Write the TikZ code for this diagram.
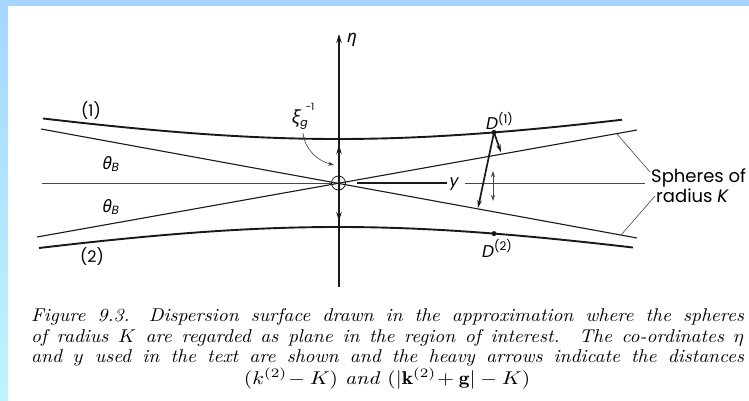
\documentclass[tikz,border=0pt]{standalone}
\usepackage{fontspec}
\usepackage{graphicx}
\newfontfamily\labfont{Poppins}
\newfontfamily\grkfont{Noto Sans}
\usetikzlibrary{arrows.meta}
\definecolor{slideblue}{RGB}{166,214,255}
\definecolor{slidecyan}{RGB}{190,244,255}
\definecolor{ink}{RGB}{25,25,25}
\begin{document}
\begin{tikzpicture}[x=1pt,y=-1pt,
  curvel/.style={draw=ink, line width=1.9pt},
  asym/.style={draw=ink, line width=1.1pt},
  axisl/.style={draw=ink, line width=1.2pt},
  thinl/.style={draw=ink!80, line width=0.8pt},
  leader/.style={draw=ink!85, line width=0.55pt},
  tip/.style={-{Stealth[length=9pt,width=5.5pt]}},
  smalltip/.style={-{Stealth[length=6pt,width=4pt]}},
  heavy/.style={draw=ink, line width=1.7pt, -{Stealth[length=8pt,width=4.5pt]}},
  lbl/.style={inner sep=0pt, font=\labfont\fontsize{16}{16}\selectfont},
  grk/.style={inner sep=0pt, font=\grkfont\itshape\fontsize{17}{17}\selectfont},
  dot/.style={circle, fill=ink, inner sep=0pt, minimum size=5pt},
  capline/.style={inner sep=0pt, anchor=base west},
]
\useasboundingbox (0,0) rectangle (749,401);
\fill[white] (0,0) rectangle (749,401);
\shade[top color=slideblue, bottom color=slidecyan] (0,0) rectangle (8,401);
\fill[slideblue] (0,0) rectangle (749,6);

% axis
\coordinate (axB) at (339,287);
\coordinate (axT) at (339,34);
\draw[axisl, tip] (axB) -- (axT);
\node[grk] (eta) at (352,40) {η};

% centre circle
\node[circle, draw=ink, line width=0.8pt, minimum size=14pt, inner sep=0pt] (O) at (338.5,183) {};

% horizontal line
\coordinate (hL) at (42,183);
\coordinate (hR) at (645,183);
\coordinate (yS) at (357,183);
\coordinate (yE) at (447,183);
\coordinate (yR) at (465,183);
\draw[thinl] (hL) -- (O.west);
\draw[draw=ink, line width=1.3pt] (yS) -- (yE);
\node[lbl, font=\labfont\itshape\fontsize{16}{16}\selectfont] (ylab) at (454,184) {y};
\draw[thinl] (yR) -- (hR);

% asymptotes (spheres)
\coordinate (a1s) at (41,129);
\coordinate (a1e) at (637,238);
\coordinate (a2s) at (37,237);
\coordinate (a2e) at (637,130);
\draw[asym] (a1s) -- (a1e);
\draw[asym] (a2s) -- (a2e);

% dispersion surface branches
\draw[curvel] plot[domain=43:622, samples=80, smooth] (\x, {183-sqrt(1936+(0.16*(\x-338))*(0.16*(\x-338)))});
\draw[curvel] plot[domain=39:633, samples=80, smooth] (\x, {183+sqrt(1936+(0.16*(\x-338))*(0.16*(\x-338)))});

% axis arrows
\coordinate (upS) at (339,172);
\coordinate (upT) at (339,145);
\coordinate (dnS) at (339,194);
\coordinate (dnT) at (339,221);
\draw[axisl, tip] (upS) -- (upT);
\draw[axisl, tip] (dnS) -- (dnT);

% xi label with curved arrow
\node[grk, font=\grkfont\itshape\fontsize{18}{18}\selectfont] (xi) at (296,118) {ξ};
\node[lbl, font=\labfont\fontsize{10}{10}\selectfont] (xisup) at (310,107) {−1};
\node[lbl, font=\labfont\itshape\fontsize{11}{11}\selectfont] (xisub) at (304,125) {g};
\coordinate (xs) at (303,133);
\coordinate (xe) at (334,165);
\draw[leader, line width=0.6pt, smalltip] (xs) .. controls (305,150) and (318,161) .. (xe);

% D points
\node[dot] (D1) at (494,132.4) {};
\node[dot] (D2) at (494,233.6) {};
\node[lbl, anchor=base west, font=\labfont\itshape\fontsize{17}{17}\selectfont] (D1l) at (486,130) {D\textsuperscript{\upshape(1)}};
\node[lbl, anchor=base west, font=\labfont\itshape\fontsize{17}{17}\selectfont] (D2l) at (482,257) {D\textsuperscript{\upshape(2)}};

% heavy arrows
\coordinate (h1) at (478,208);
\coordinate (h2) at (501,152.5);
\draw[heavy] (D1.center) -- (h1);
\draw[heavy] (D1.center) -- (h2);

% small double arrow
\coordinate (dA) at (493,171);
\coordinate (dB) at (493,201);
\draw[thinl, {Stealth[length=6pt,width=4pt]}-{Stealth[length=6pt,width=4pt]}] (dA) -- (dB);

% branch labels
\node[lbl] (b1) at (91,111) {(1)};
\node[lbl] (b2) at (92,257) {(2)};
\node[grk] (th1) at (111,164) {θ\textsubscript{\labfont\itshape B}};
\node[grk] (th2) at (111,207) {θ\textsubscript{\labfont\itshape B}};

% spheres label and leaders
\node[lbl, anchor=base west, font=\labfont\fontsize{18}{18}\selectfont] (sph1) at (651,182) {Spheres of};
\node[lbl, anchor=base west, font=\labfont\fontsize{18}{18}\selectfont] (sph2) at (656,202) {radius \textit{K}};
\coordinate (l1a) at (617,134);
\coordinate (l1b) at (650,172);
\coordinate (l2a) at (621,235);
\coordinate (l2b) at (655,196);
\draw[leader] (l1a) -- (l1b);
\draw[leader] (l2a) -- (l2b);

% caption
\node[capline] (cap1) at (31,321) {\scalebox{1.95}[1.85]{\makebox[365.6pt][s]{\itshape Figure 9.3.\quad Dispersion surface drawn in the approximation where the spheres}}};
\node[capline] (cap2) at (31,342) {\scalebox{1.95}[1.85]{\makebox[365.6pt][s]{\itshape of radius $K$ are regarded as plane in the region of interest.\quad The co-ordinates $\eta$}}};
\node[capline] (cap3) at (31,362.5) {\scalebox{1.95}[1.85]{\makebox[365.6pt][s]{\itshape and $y$ used in the text are shown and the heavy arrows indicate the distances}}};
\node[inner sep=0pt, anchor=base] (cap4) at (387,384) {\scalebox{2.15}[1.85]{$(k^{(2)}\!-K)$ \textit{and} $(|\mathbf{k}^{(2)}\!+\mathbf{g}|-K)$}};
\end{tikzpicture}
\end{document}
